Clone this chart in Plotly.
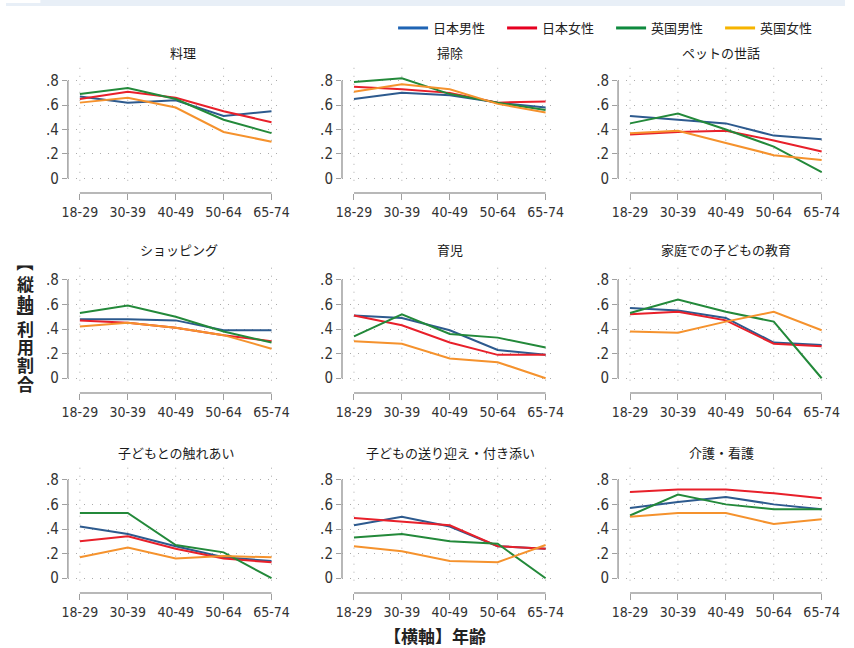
import plotly.graph_objects as go

# ---------------- data ----------------
age_groups = ["18-29", "30-39", "40-49", "50-64", "65-74"]
series_names = ["日本男性", "日本女性", "英国男性", "英国女性"]
panel_titles = ["料理", "掃除", "ペットの世話",
                "ショッピング", "育児", "家庭での子どもの教育",
                "子どもとの触れあい", "子どもの送り迎え・付き添い", "介護・看護"]

jp_male = [
    [0.67, 0.62, 0.64, 0.51, 0.55],
    [0.65, 0.70, 0.68, 0.62, 0.58],
    [0.51, 0.48, 0.45, 0.35, 0.32],
    [0.48, 0.48, 0.47, 0.39, 0.39],
    [0.51, 0.49, 0.39, 0.23, 0.19],
    [0.57, 0.55, 0.49, 0.29, 0.27],
    [0.42, 0.36, 0.26, 0.17, 0.14],
    [0.43, 0.50, 0.42, 0.26, 0.24],
    [0.57, 0.62, 0.66, 0.60, 0.56],
]
jp_female = [
    [0.65, 0.71, 0.66, 0.55, 0.46],
    [0.75, 0.73, 0.70, 0.62, 0.63],
    [0.36, 0.38, 0.39, 0.31, 0.22],
    [0.47, 0.45, 0.41, 0.35, 0.30],
    [0.51, 0.43, 0.29, 0.19, 0.19],
    [0.52, 0.54, 0.47, 0.28, 0.26],
    [0.30, 0.34, 0.24, 0.16, 0.13],
    [0.49, 0.46, 0.43, 0.26, 0.24],
    [0.70, 0.72, 0.72, 0.69, 0.65],
]
uk_male = [
    [0.69, 0.74, 0.65, 0.48, 0.37],
    [0.79, 0.82, 0.69, 0.62, 0.56],
    [0.45, 0.53, 0.40, 0.26, 0.05],
    [0.53, 0.59, 0.50, 0.38, 0.29],
    [0.34, 0.52, 0.36, 0.33, 0.25],
    [0.53, 0.64, 0.54, 0.46, 0.00],
    [0.53, 0.53, 0.27, 0.21, 0.00],
    [0.33, 0.36, 0.30, 0.28, 0.00],
    [0.51, 0.68, 0.60, 0.56, 0.56],
]
uk_female = [
    [0.62, 0.66, 0.58, 0.38, 0.30],
    [0.71, 0.77, 0.73, 0.61, 0.54],
    [0.37, 0.39, 0.29, 0.19, 0.15],
    [0.42, 0.45, 0.41, 0.35, 0.24],
    [0.30, 0.28, 0.16, 0.13, 0.00],
    [0.38, 0.37, 0.46, 0.54, 0.39],
    [0.17, 0.25, 0.16, 0.18, 0.17],
    [0.26, 0.22, 0.14, 0.13, 0.27],
    [0.50, 0.53, 0.53, 0.44, 0.48],
]
y_tick_vals = [0, 0.2, 0.4, 0.6, 0.8]
y_tick_text = ["0", ".2", ".4", ".6", ".8"]
x_title = "【横軸】年齢"
y_title_chars = ["【", "縦", "軸", "】", "利", "用", "割", "合"]

# ---------------- styles ----------------
W, H = 854, 648
line_colors = ["#2d5a8e", "#e8202a", "#23893a", "#f5922d"]
legend_colors = ["#1f64b4", "#e60020", "#0f8a3e", "#f6b400"]
all_series = [jp_male, jp_female, uk_male, uk_female]
cjk = "Noto Sans CJK JP"
narrow = "Liberation Sans Narrow, DejaVu Sans Condensed, Arial Narrow, sans-serif"

col_px = [(63, 280), (342, 559), (623, 840)]
row_px = [(66, 193), (265, 393), (465, 593)]
title_pos = [(180, 52), (452, 52), (728, 52),
             (176, 250), (452, 250), (733, 250),
             (174, 452), (452, 452), (728, 452)]
grid_col = "#ababab"
axis_col = "#a0a0a0"

fig = go.Figure()
layout = dict(
    width=W, height=H, margin=dict(l=0, r=0, t=0, b=0),
    paper_bgcolor="white", plot_bgcolor="white",
    showlegend=True,
    legend=dict(orientation="h", x=394 / W, xanchor="left", y=1 - 13 / H, yanchor="top",
                font=dict(family=cjk, size=13, color="#222"), itemwidth=30,
                entrywidth=64, bgcolor="rgba(0,0,0,0)", tracegroupgap=0),
)
shapes = []
annotations = []

# top strip
shapes.append(dict(type="rect", xref="paper", yref="paper", x0=0, x1=1,
                   y0=1 - 6 / H, y1=1, fillcolor="#e8eff7", line=dict(width=0), layer="below"))
shapes.append(dict(type="rect", xref="paper", yref="paper", x0=0, x1=35 / W,
                   y0=1 - 3 / H, y1=1, fillcolor="white", line=dict(width=0), layer="below"))

for p in range(9):
    r, c = divmod(p, 3)
    sfx = "" if p == 0 else str(p + 1)
    xa, ya = "x" + sfx, "y" + sfx
    x0p, x1p = col_px[c]
    y0p, y1p = row_px[r]
    layout["xaxis" + sfx] = dict(
        domain=[x0p / W, x1p / W], anchor=ya, type="category",
        categoryorder="array", categoryarray=age_groups,
        range=[-0.25, 4.2], showgrid=False, zeroline=False, showline=False,
        ticks="outside", ticklen=6, tickcolor=axis_col, tickwidth=1,
        tickfont=dict(family=narrow, size=14, color="#333"), fixedrange=True)
    layout["yaxis" + sfx] = dict(
        domain=[1 - y1p / H, 1 - y0p / H], anchor=xa,
        range=[-0.12, 0.92], tickvals=y_tick_vals, ticktext=y_tick_text,
        showgrid=True, gridcolor=grid_col, griddash="1px,7px", gridwidth=1,
        zeroline=False, showline=False,
        ticks="outside", ticklen=5, tickcolor=axis_col, tickwidth=1,
        tickfont=dict(family=narrow, size=15, color="#333"), fixedrange=True)
    # axis lines (tick span only)
    shapes.append(dict(type="line", xref=xa + " domain", yref=ya, x0=0, x1=0,
                       y0=y_tick_vals[0], y1=y_tick_vals[-1],
                       line=dict(color=axis_col, width=1.5)))
    shapes.append(dict(type="line", xref=xa, yref=ya + " domain", x0=0, x1=len(age_groups) - 1,
                       y0=0, y1=0, line=dict(color=axis_col, width=1.5)))
    # vertical dotted grid
    for k in range(len(age_groups)):
        shapes.append(dict(type="line", xref=xa, yref=ya, x0=k, x1=k, y0=-0.02, y1=0.92,
                           line=dict(color=grid_col, width=1, dash="1px,7px"), layer="below"))
    for s in range(4):
        fig.add_trace(go.Scatter(
            x=age_groups, y=all_series[s][p], mode="lines",
            line=dict(color=line_colors[s], width=2),
            xaxis=xa, yaxis=ya, showlegend=False, name=series_names[s],
            hoverinfo="skip"))
    tx, ty = title_pos[p]
    annotations.append(dict(text=panel_titles[p], xref="paper", yref="paper",
                            x=tx / W, y=1 - ty / H, xanchor="center", yanchor="middle",
                            showarrow=False,
                            font=dict(family=cjk, size=13, color="#1a1a1a")))

# legend entries
for s in range(4):
    fig.add_trace(go.Scatter(x=[None], y=[None], mode="lines", name=series_names[s],
                             line=dict(color=legend_colors[s], width=3),
                             xaxis="x", yaxis="y", showlegend=True))

# axis titles
annotations.append(dict(text="<b>" + x_title + "</b>", xref="paper", yref="paper",
                        x=437 / W, y=1 - 635 / H, xanchor="center", yanchor="middle",
                        showarrow=False,
                        font=dict(family=cjk, size=17, color="#222")))
char_y = [263, 284, 302, 318, 328, 346, 364, 383]
char_angle = [90, 0, 0, 90, 0, 0, 0, 0]
for ch, cy, ang in zip(y_title_chars, char_y, char_angle):
    annotations.append(dict(text="<b>" + ch + "</b>", xref="paper", yref="paper",
                            x=20 / W, y=1 - cy / H, xanchor="center", yanchor="middle",
                            textangle=ang, showarrow=False,
                            font=dict(family=cjk, size=17, color="#222")))

layout["shapes"] = shapes
layout["annotations"] = annotations
fig.update_layout(**layout)
fig.write_html("out.html", config={"displayModeBar": False},
               post_script="document.body.style.margin='0';document.body.style.padding='0';")
